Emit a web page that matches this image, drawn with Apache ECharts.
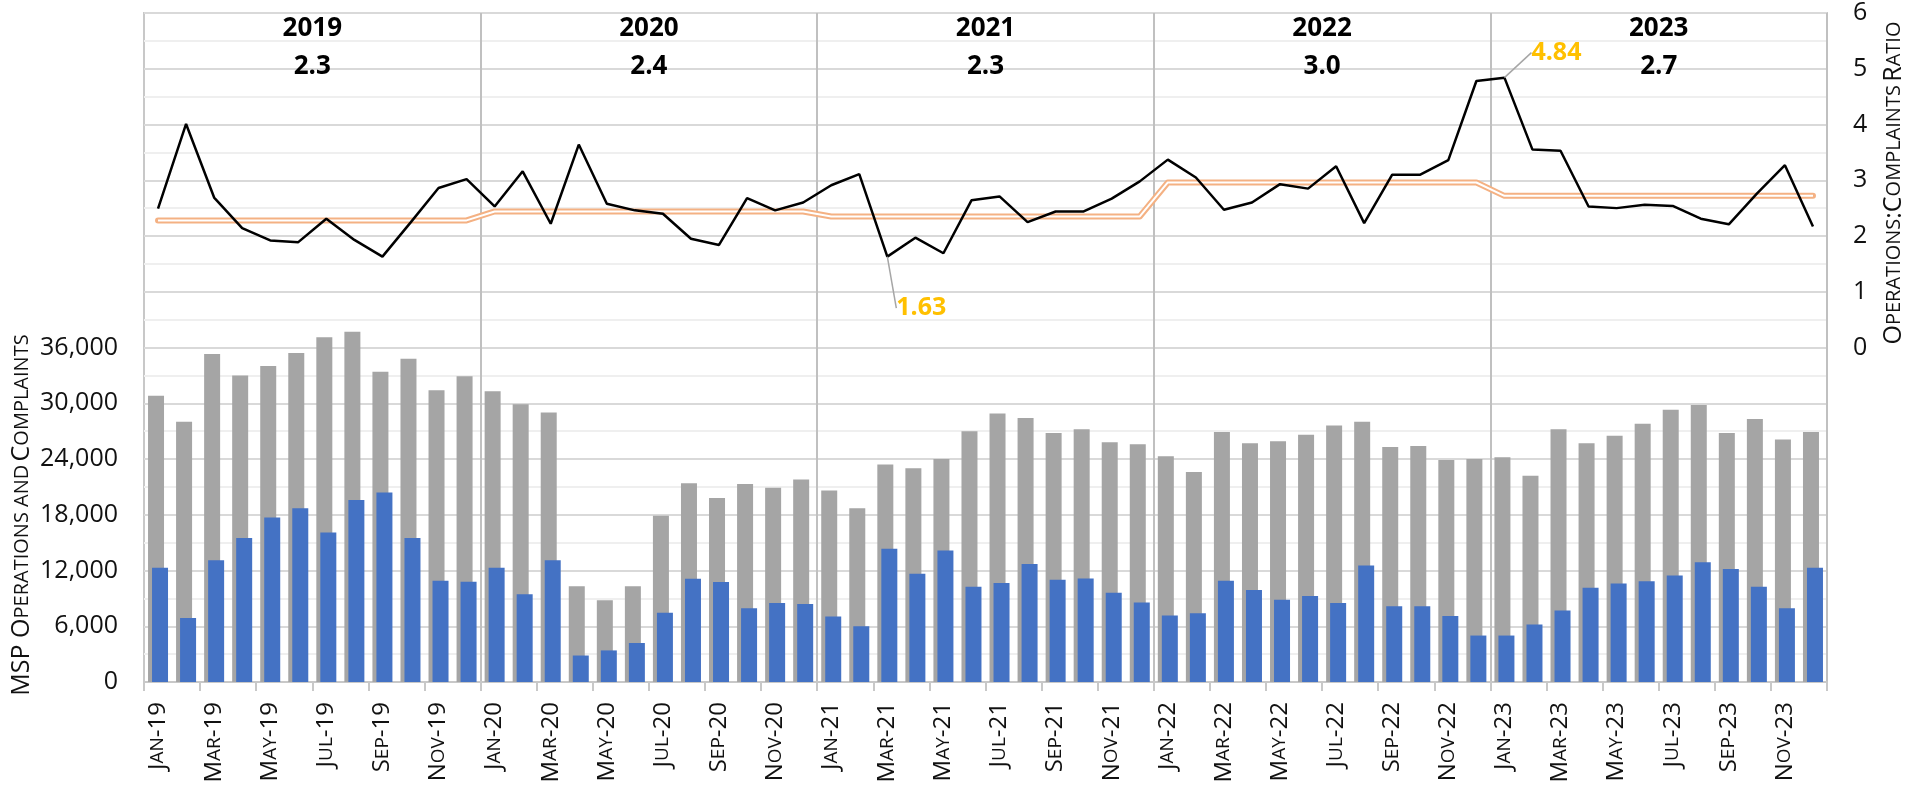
<!DOCTYPE html>
<html>
<head>
<meta charset="utf-8">
<script src="https://cdn.jsdelivr.net/npm/echarts@6/dist/echarts.min.js"></script>
<style>
  html, body { margin: 0; padding: 0; background: #fff; }
  #main { width: 1925px; height: 789px; }
</style>
</head>
<body>
<div id="main"></div>
<script>
// data
const months = ['Jan', 'Feb', 'Mar', 'Apr', 'May', 'Jun', 'Jul', 'Aug', 'Sep', 'Oct', 'Nov', 'Dec'];
const years = ['2019', '2020', '2021', '2022', '2023'];

const operations = [
  30800, 28000, 35300, 33000, 34000, 35400, 37100, 37700, 33400, 34800, 31400, 32900,
  31300, 29900, 29000, 10300, 8800, 10300, 17900, 21400, 19800, 21300, 20900, 21800,
  20600, 18700, 23400, 23000, 24000, 27000, 28900, 28400, 26800, 27200, 25800, 25600,
  24300, 22600, 26900, 25700, 25900, 26600, 27600, 28000, 25300, 25400, 23900, 24000,
  24200, 22200, 27200, 25700, 26500, 27800, 29300, 29800, 26800, 28300, 26100, 26900
];
const complaints = [
  12300, 6900, 13100, 15500, 17700, 18700, 16100, 19600, 20400, 15500, 10900, 10800,
  12300, 9450, 13100, 2850, 3400, 4200, 7450, 11100, 10750, 7950, 8500, 8400,
  7050, 6000, 14350, 11650, 14150, 10250, 10650, 12700, 11000, 11150, 9600, 8550,
  7150, 7400, 10900, 9900, 8850, 9250, 8500, 12550, 8150, 8150, 7100, 5000,
  5000, 6200, 7700, 10150, 10600, 10850, 11450, 12900, 12150, 10250, 7950, 12300
];
const ratio = [
  2.49, 4.01, 2.69, 2.14, 1.92, 1.89, 2.31, 1.93, 1.63, 2.24, 2.86, 3.02,
  2.53, 3.16, 2.22, 3.64, 2.58, 2.46, 2.40, 1.95, 1.84, 2.68, 2.46, 2.60,
  2.91, 3.11, 1.63, 1.97, 1.69, 2.64, 2.71, 2.25, 2.44, 2.44, 2.67, 2.98,
  3.37, 3.05, 2.47, 2.60, 2.93, 2.85, 3.25, 2.23, 3.10, 3.10, 3.36, 4.78,
  4.84, 3.55, 3.53, 2.53, 2.50, 2.56, 2.54, 2.31, 2.21, 2.76, 3.27, 2.17
];
const yearAvg = [2.28, 2.44, 2.35, 2.96, 2.72];
const yearAvgLabels = ['2.3', '2.4', '2.3', '3.0', '2.7'];
const calloutIdx = [26, 48]; // Mar-21 min, Jan-23 max

const categories = [];
years.forEach(y => months.forEach(m => categories.push(m + '-' + y.slice(2))));
const avgLine = [];
yearAvg.forEach(v => months.forEach(() => avgLine.push(v)));

const FONT = 'Open Sans';
const GRID_C = '#c8c8c8';

// fake small caps: first letter full size, the rest smaller
function smallCaps(word) {
  return '{n|' + word[0] + '}{s|' + word.slice(1).toUpperCase() + '}';
}

const chart = echarts.init(document.getElementById('main'));
chart.setOption({
  animation: false,
  textStyle: { fontFamily: FONT },
  grid: {
    left: 144, right: 98, top: 13, bottom: 107,
    show: true, borderColor: GRID_C, borderWidth: 2
  },
  xAxis: {
    type: 'category',
    data: categories,
    boundaryGap: true,
    axisLine: { lineStyle: { color: GRID_C, width: 2 } },
    axisTick: { show: true, interval: 1, length: 9, lineStyle: { color: GRID_C, width: 2 } },
    axisLabel: {
      interval: 1,
      rotate: 90,
      margin: 20,
      color: '#111',
      formatter: v => {
        const p = v.split('-');
        return smallCaps(p[0]) + '{n|-' + p[1] + '}';
      },
      rich: {
        n: { fontSize: 24, fontFamily: FONT, color: '#111' },
        s: { fontSize: 19, fontFamily: FONT, color: '#111' }
      }
    },
    splitLine: {
      show: true,
      interval: (i) => i > 0 && i % 12 === 0,
      lineStyle: { color: '#c0c0c0', width: 2 }
    }
  },
  yAxis: [
    {
      type: 'value',
      min: 0, max: 72000, interval: 6000,
      axisLine: { show: false },
      axisTick: { show: false },
      axisLabel: {
        fontSize: 25, color: '#111', margin: 26,
        formatter: v => v <= 36000 ? v.toLocaleString('en-US') : ''
      },
      splitLine: { lineStyle: { color: '#d9d9d9', width: 2 } },
      minorTick: { show: false, splitNumber: 2 },
      minorSplitLine: { show: true, lineStyle: { color: '#efefef', width: 2 } }
    },
    {
      type: 'value',
      min: -6, max: 6, interval: 1,
      position: 'right',
      axisLine: { show: false },
      axisTick: { show: false },
      splitLine: { show: false },
      axisLabel: {
        fontSize: 25, color: '#111', margin: 26,
        formatter: v => v >= 0 ? String(v) : ''
      }
    }
  ],
  series: [
    {
      name: 'Operations',
      type: 'bar',
      data: operations,
      barWidth: 16,
      barGap: '-75%',
      itemStyle: { color: '#a5a5a5' }
    },
    {
      name: 'Complaints',
      type: 'bar',
      data: complaints,
      barWidth: 16,
      itemStyle: { color: '#4472c4' }
    },
    {
      name: 'Yearly average',
      type: 'line',
      yAxisIndex: 1,
      data: avgLine,
      symbol: 'none',
      lineStyle: { color: '#f4b183', width: 6, cap: 'round', join: 'round' },
      markArea: {
        silent: true,
        itemStyle: { color: 'rgba(0,0,0,0)' },
        label: {
          show: true,
          position: 'insideTop',
          distance: 1,
          rich: {
            y: { fontSize: 26, fontWeight: 'bold', color: '#000', lineHeight: 30, fontFamily: FONT },
            v: { fontSize: 26, fontWeight: 'bold', color: '#000', lineHeight: 46, fontFamily: FONT }
          }
        },
        data: years.map((y, i) => [
          { name: '{y|' + y + '}\n{v|' + yearAvgLabels[i] + '}', xAxis: categories[i * 12] },
          { xAxis: categories[i * 12 + 11] }
        ])
      }
    },
    {
      name: 'Yearly average inner',
      type: 'line',
      yAxisIndex: 1,
      data: avgLine,
      symbol: 'none',
      lineStyle: { color: '#fff', width: 2, join: 'round' }
    },
    {
      name: 'Ratio',
      type: 'line',
      yAxisIndex: 1,
      data: ratio.map((v, i) => {
        if (i === calloutIdx[0]) return { value: v, label: { show: true, position: 'bottom' } };
        if (i === calloutIdx[1]) return { value: v, label: { show: true, position: 'right' } };
        return v;
      }),
      symbol: 'circle',
      symbolSize: 0,
      lineStyle: { color: '#000', width: 2.5 },
      itemStyle: { color: '#000' },
      label: {
        show: false,
        formatter: p => p.value.toFixed(2),
        color: '#ffc000', fontSize: 25, fontWeight: 'bold', fontFamily: FONT
      },
      labelLine: { show: true, lineStyle: { color: '#a6a6a6', width: 1.5 } },
      labelLayout: p => {
        if (p.dataIndex === calloutIdx[0]) return { dx: 34, dy: 34 };
        if (p.dataIndex === calloutIdx[1]) return { dx: 22, dy: -25 };
        return {};
      },
      z: 5
    }
  ],
  graphic: [
    {
      type: 'text',
      x: 22, y: 515,
      rotation: Math.PI / 2,
      style: {
        text: '{n|MSP O}{s|PERATIONS AND} {n|C}{s|OMPLAINTS}',
        align: 'center', verticalAlign: 'middle',
        rich: {
          n: { fontSize: 25, fontFamily: FONT, fill: '#111' },
          s: { fontSize: 20, fontFamily: FONT, fill: '#111' }
        }
      }
    },
    {
      type: 'text',
      x: 1894, y: 183,
      rotation: Math.PI / 2,
      style: {
        text: '{n|O}{s|PERATIONS}{n|:C}{s|OMPLAINTS} {n|R}{s|ATIO}',
        align: 'center', verticalAlign: 'middle',
        rich: {
          n: { fontSize: 25, fontFamily: FONT, fill: '#111' },
          s: { fontSize: 20, fontFamily: FONT, fill: '#111' }
        }
      }
    }
  ]
});
</script>
</body>
</html>
